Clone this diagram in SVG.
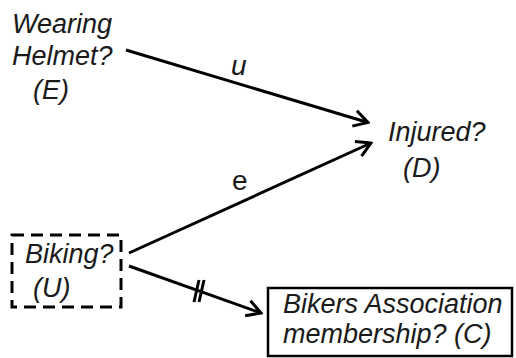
<svg xmlns="http://www.w3.org/2000/svg" width="516" height="358" viewBox="0 0 516 358">
<style>
.t{font-family:"Liberation Sans",Arial,sans-serif;font-size:27px;font-style:italic;fill:#1a1a1a}
.e{stroke:#000;stroke-width:3;fill:none}
.lbl{font-family:"Liberation Sans",Arial,sans-serif;fill:#1a1a1a}
</style>
<defs>
<marker id="ah" markerUnits="userSpaceOnUse" viewBox="-17 -11 19 22" markerWidth="19" markerHeight="22" refX="0" refY="0" orient="auto">
<path d="M-14,-8 L0,0 L-14,8" fill="none" stroke="#000" stroke-width="3"/>
</marker>
</defs>
<rect width="516" height="358" fill="#fff"/>
<g id="E">
<text class="t" x="12" y="33">Wearing</text>
<text class="t" x="12" y="65">Helmet?</text>
<text class="t" x="33" y="99">(E)</text>
</g>
<g id="D">
<text class="t" x="388" y="141">Injured?</text>
<text class="t" x="403" y="177">(D)</text>
</g>
<g id="U">
<rect x="12" y="235" width="109" height="72" fill="none" stroke="#000" stroke-width="3" stroke-dasharray="12 7"/>
<text class="t" x="25" y="263">Biking?</text>
<text class="t" x="33" y="297">(U)</text>
</g>
<g id="C">
<rect x="268" y="288" width="244" height="68" fill="none" stroke="#000" stroke-width="2.5"/>
<text class="t" x="283" y="313">Bikers Association</text>
<text class="t" x="283" y="343">membership? (C)</text>
</g>
<g id="connectors">
<line class="e" x1="126" y1="50" x2="368" y2="122.5" marker-end="url(#ah)"/>
<line class="e" x1="129" y1="253" x2="371" y2="143" marker-end="url(#ah)"/>
<line class="e" x1="129" y1="266" x2="261" y2="313" marker-end="url(#ah)"/>
<line class="e" x1="199" y1="280" x2="194" y2="302" stroke-width="2.5"/>
<line class="e" x1="204" y1="280" x2="199" y2="302" stroke-width="2.5"/>
<text class="lbl" x="231" y="75" font-size="28" font-style="italic">u</text>
<text class="lbl" x="232" y="190" font-size="28">e</text>
</g>
</svg>
